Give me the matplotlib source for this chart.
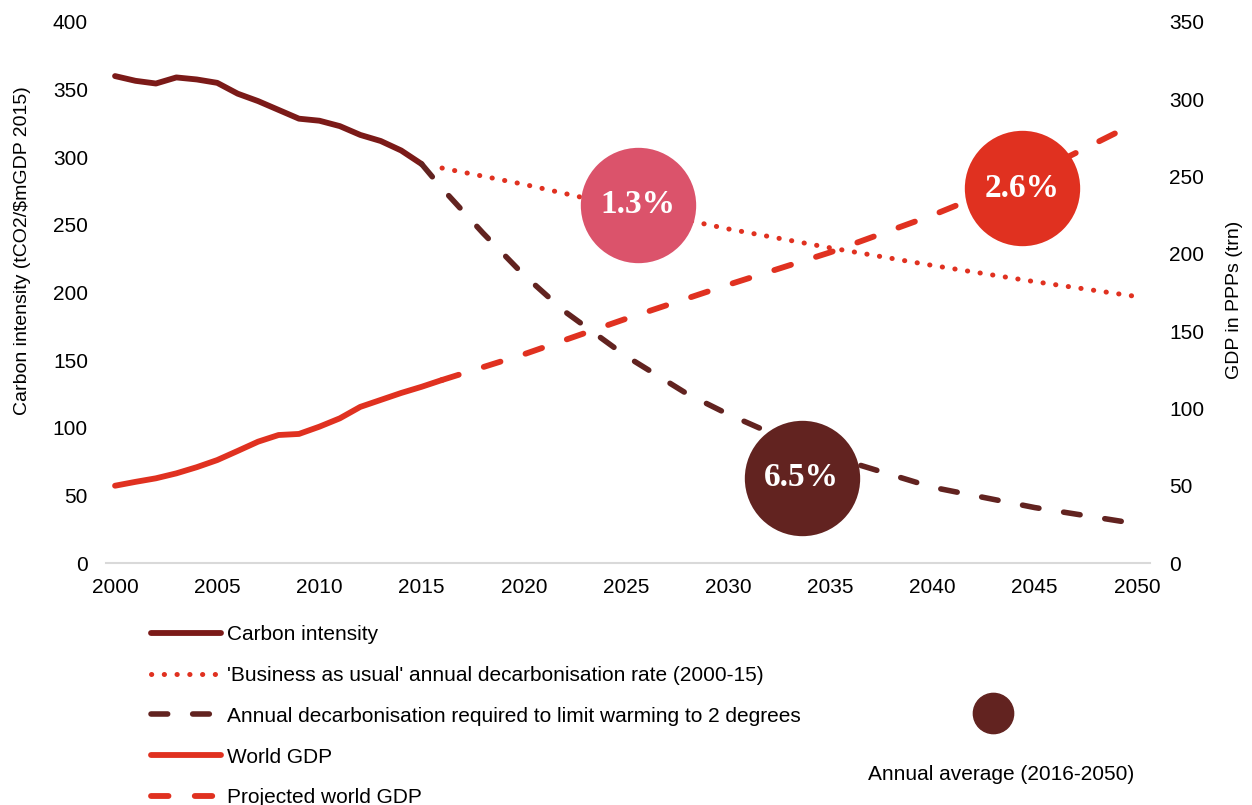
import numpy as np
import matplotlib.pyplot as plt
from matplotlib.lines import Line2D

plt.rcParams['font.family'] = ['Liberation Sans', 'DejaVu Sans']

# Carbon intensity (tCO2/$m GDP), 2000-2015
ci_years = list(range(2000, 2016))
ci_values = [360, 356.5, 354.5, 359, 357.5, 355, 347, 341.5, 335, 328.5,
             327, 323, 316.5, 312, 305, 295]

# 'Business as usual' path 2016-2050
bau_years = [2016, 2020, 2025, 2030, 2035, 2040, 2045, 2050]
bau_values = [292, 280, 263, 247, 233, 220, 208, 197]

# Path required for 2 degrees, 2015-2050
req_years = [2015, 2016, 2018, 2020, 2022, 2025, 2028, 2030, 2033, 2035, 2040, 2045, 2050]
req_values = [295, 277, 244, 213, 186, 153, 125, 110, 90, 79, 56, 41, 29]

# World GDP in PPPs (trn), right axis
gdp_years = list(range(2000, 2017))
gdp_values = [50, 52.5, 54.8, 58, 62, 66.6, 72.5, 78.5, 82.8, 83.5,
              88.2, 93.6, 101, 105.5, 110, 114, 118.4]

proj_years = [2016, 2020, 2025, 2030, 2035, 2040, 2045, 2050]
proj_values = [118.4, 135, 158, 180, 201, 225, 252, 285]

# bubbles: label, year, carbon-intensity-axis position, colour
bubble_labels = ['1.3%', '2.6%', '6.5%']
bubble_x = [2025.6, 2044.4, 2033.6]
bubble_y = [265, 277, 63]
bubble_colors = ['#DB536B', '#E03120', '#622320']

dark_red = '#7B1A18'
dark_brown = '#622320'
red = '#E03120'

fig = plt.figure(figsize=(12.52, 8.05), dpi=100)
ax = fig.add_axes([0.0847, 0.3006, 0.8338, 0.6721])
ax2 = ax.twinx()

ax.plot(ci_years, ci_values, color=dark_red, lw=4.2, solid_capstyle='round',
        label='Carbon intensity', zorder=3)
ax.plot(bau_years, bau_values, color=red, lw=3.6, linestyle=(0, (0.05, 2.5)),
        dash_capstyle='round', zorder=3,
        label="'Business as usual' annual decarbonisation rate (2000-15)")
ax.plot(req_years, req_values, color=dark_brown, lw=4.0, linestyle=(0, (3, 4.5)),
        dash_capstyle='round', zorder=3,
        label='Annual decarbonisation required to limit warming to 2 degrees')
ax2.plot(gdp_years, gdp_values, color=red, lw=4.2, solid_capstyle='round',
         label='World GDP', zorder=3)
ax2.plot(proj_years, proj_values, color=red, lw=4.2, linestyle=(0, (3, 4.5)),
         dash_capstyle='round', label='Projected world GDP', zorder=3)

# bubbles drawn on top axes so they cover all lines
ax2.set_zorder(ax.get_zorder() + 1)
ax.patch.set_visible(False)
for lab, bx, by, bc in zip(bubble_labels, bubble_x, bubble_y, bubble_colors):
    yy = by * 350 / 400
    ax2.scatter([bx], [yy], s=6900, color=bc, zorder=5, linewidths=0)
    ax2.text(bx, yy, lab, color='white', fontsize=24, fontweight='bold',
             family=['Liberation Serif', 'DejaVu Serif'],
             ha='center', va='center', zorder=6)

ax.set_xlim(1999.56, 2050.64)
ax.set_ylim(0, 400)
ax2.set_ylim(0, 350)
ax.set_xticks(range(2000, 2051, 5))
ax.set_yticks(range(0, 401, 50))
ax2.set_yticks(range(0, 351, 50))

for a in (ax, ax2):
    for side in ['top', 'left', 'right', 'bottom']:
        a.spines[side].set_visible(False)
    a.tick_params(length=0, labelsize=15)
ax.spines['bottom'].set_visible(True)
ax.spines['bottom'].set_color('#D9D9D9')
ax.spines['bottom'].set_linewidth(1.5)
ax.tick_params(axis='x', pad=11)
ax.tick_params(axis='y', pad=13)
ax2.tick_params(axis='y', pad=14)

ax.set_ylabel('Carbon intensity (tCO2/\\$mGDP 2015)', fontsize=14)
ax.yaxis.set_label_coords(-0.072, 0.578)
ax2.set_ylabel('GDP in PPPs (trn)', fontsize=14)
ax2.yaxis.set_label_coords(1.073, 0.486)

h1, l1 = ax.get_legend_handles_labels()
h2, l2 = ax2.get_legend_handles_labels()
fig.legend(h1 + h2, l1 + l2, loc='upper left', bbox_to_anchor=(0.1138, 0.234),
           frameon=False, fontsize=15, handlelength=3.37, handletextpad=0.3,
           labelspacing=1.05, borderaxespad=0)

fig.add_artist(Line2D([0.7931], [0.1143], marker='o', markersize=29,
                      color=dark_brown, linestyle='none', transform=fig.transFigure))
fig.text(0.7995, 0.0373, 'Annual average (2016-2050)', ha='center', va='center',
         fontsize=15)

fig.savefig('out.png', dpi=100)
